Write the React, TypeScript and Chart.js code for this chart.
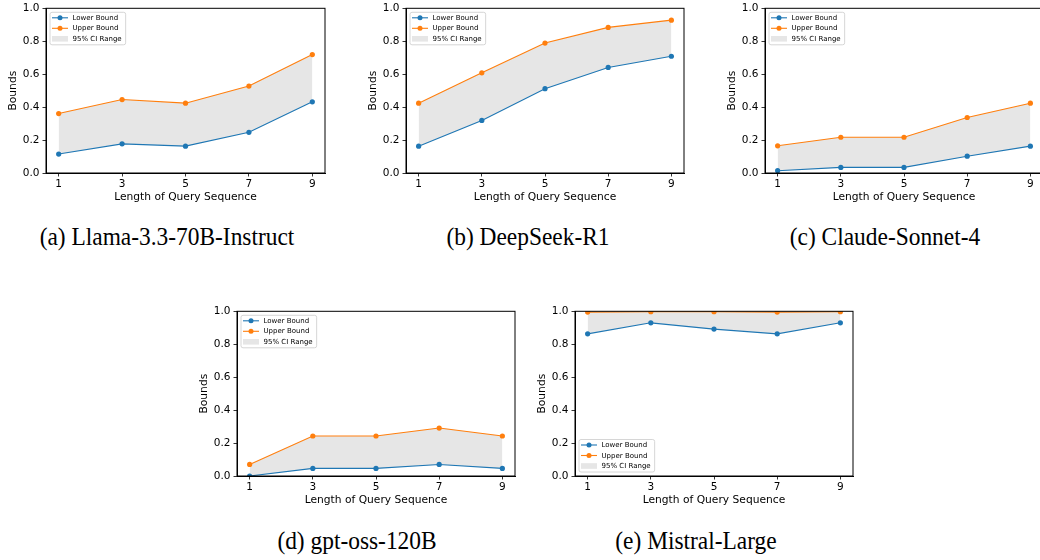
import React, { useEffect, useRef } from "react";
import { Chart, registerables } from "chart.js";

Chart.register(...registerables);

// ---------- data ----------
const xValues = [1, 3, 5, 7, 9];
const yTickValues = [0, 0.2, 0.4, 0.6, 0.8, 1.0];
const seriesLabels = ["Lower Bound", "Upper Bound", "95% CI Range"];
const xTitle = "Length of Query Sequence";
const yTitle = "Bounds";

const llamaLower = [0.115, 0.177, 0.163, 0.247, 0.432];
const llamaUpper = [0.361, 0.446, 0.424, 0.528, 0.719];
const deepseekLower = [0.163, 0.319, 0.512, 0.641, 0.709];
const deepseekUpper = [0.424, 0.608, 0.789, 0.884, 0.928];
const claudeLower = [0.014, 0.034, 0.034, 0.102, 0.163];
const claudeUpper = [0.165, 0.217, 0.217, 0.337, 0.424];
const gptLower = [0.0, 0.046, 0.046, 0.07, 0.046];
const gptUpper = [0.07, 0.243, 0.243, 0.291, 0.243];
const mistralLower = [0.863, 0.93, 0.892, 0.863, 0.93];
const mistralUpper = [0.995, 0.998, 0.998, 0.995, 0.998];

const captions = [
  "(a) Llama-3.3-70B-Instruct",
  "(b) DeepSeek-R1",
  "(c) Claude-Sonnet-4",
  "(d) gpt-oss-120B",
  "(e) Mistral-Large",
];
const lowerSeries = [llamaLower, deepseekLower, claudeLower, gptLower, mistralLower];
const upperSeries = [llamaUpper, deepseekUpper, claudeUpper, gptUpper, mistralUpper];
const legendPlaces = ["upper", "upper", "upper", "upper", "lower"];

// ---------- layout (plot rectangles & captions) ----------
const panels = [
  { L: 46, T: 6, R: 324.5, B: 173, cx: 167, cy: 237 },
  { L: 405.5, T: 6, R: 683, B: 173, cx: 528, cy: 237 },
  { L: 764.5, T: 6, R: 1042, B: 173, cx: 885, cy: 237 },
  { L: 236.5, T: 309.3, R: 514, B: 476.7, cx: 357, cy: 541 },
  { L: 574.5, T: 309.3, R: 852, B: 476.7, cx: 696, cy: 541 },
];

const BLUE = "#1f77b4";
const ORANGE = "#ff7f0e";
const FILL = "rgba(128,128,128,0.2)";
const Y_AXIS_W = 46;
const X_AXIS_H = 32;
const PAD_TOP = 7;
const PAD_RIGHT = 6;

const spinePlugin = {
  id: "spines",
  afterDatasetsDraw(chart: any) {
    const { ctx, chartArea: ca } = chart;
    ctx.save();
    ctx.strokeStyle = "#000";
    ctx.lineWidth = 1;
    ctx.strokeRect(ca.left, ca.top, ca.right - ca.left, ca.bottom - ca.top);
    ctx.restore();
  },
};

const legendPlugin = {
  id: "innerLegend",
  afterDraw(chart: any, _args: any, opts: any) {
    const { ctx, chartArea: ca } = chart;
    ctx.save();
    ctx.font = '7px "DejaVu Sans"';
    const labels: string[] = opts.labels || [];
    const textW = Math.max(...labels.map((l) => ctx.measureText(l).width));
    const boxW = 22.5 + textW + 4;
    const boxH = 32.5;
    const x0 = ca.left + 4;
    const y0 = opts.place === "lower" ? ca.bottom - 4 - boxH : ca.top + 4;
    const r = 2;
    ctx.beginPath();
    ctx.moveTo(x0 + r, y0);
    ctx.lineTo(x0 + boxW - r, y0);
    ctx.quadraticCurveTo(x0 + boxW, y0, x0 + boxW, y0 + r);
    ctx.lineTo(x0 + boxW, y0 + boxH - r);
    ctx.quadraticCurveTo(x0 + boxW, y0 + boxH, x0 + boxW - r, y0 + boxH);
    ctx.lineTo(x0 + r, y0 + boxH);
    ctx.quadraticCurveTo(x0, y0 + boxH, x0, y0 + boxH - r);
    ctx.lineTo(x0, y0 + r);
    ctx.quadraticCurveTo(x0, y0, x0 + r, y0);
    ctx.closePath();
    ctx.fillStyle = "rgba(255,255,255,0.8)";
    ctx.fill();
    ctx.strokeStyle = "#cccccc";
    ctx.lineWidth = 0.8;
    ctx.stroke();

    const colors = [BLUE, ORANGE];
    labels.forEach((lab, i) => {
      const cy = y0 + 5.5 + i * 10.5;
      if (i < 2) {
        ctx.strokeStyle = colors[i];
        ctx.lineWidth = 1.1;
        ctx.beginPath();
        ctx.moveTo(x0 + 2, cy);
        ctx.lineTo(x0 + 18, cy);
        ctx.stroke();
        ctx.fillStyle = colors[i];
        ctx.beginPath();
        ctx.arc(x0 + 10, cy, 2.5, 0, Math.PI * 2);
        ctx.fill();
      } else {
        ctx.fillStyle = FILL;
        ctx.fillRect(x0 + 2, cy - 2.8, 16, 5.6);
      }
      ctx.fillStyle = "#000";
      ctx.textBaseline = "middle";
      ctx.textAlign = "left";
      ctx.fillText(lab, x0 + 22.5, cy + 0.3);
    });
    ctx.restore();
  },
};

function Panel({ idx }: { idx: number }) {
  const ref = useRef<HTMLCanvasElement | null>(null);
  const p = panels[idx];
  const width = Math.round(p.R - p.L + Y_AXIS_W + PAD_RIGHT);
  const height = Math.round(p.B - p.T + PAD_TOP + X_AXIS_H);

  useEffect(() => {
    if (!ref.current) return;
    const lower = lowerSeries[idx];
    const upper = upperSeries[idx];
    const tickFont = { family: '"DejaVu Sans"', size: 10.5, lineHeight: 1.2 };
    const titleFont = { family: '"DejaVu Sans"', size: 10.7, lineHeight: 1.2 };
    const chart = new Chart(ref.current, {
      type: "line",
      data: {
        datasets: [
          {
            label: seriesLabels[0],
            data: xValues.map((x, i) => ({ x, y: lower[i] })),
            borderColor: BLUE,
            backgroundColor: BLUE,
            borderWidth: 1.1,
            pointRadius: 2.6,
            pointBorderWidth: 0,
            pointBackgroundColor: BLUE,
            fill: false,
            tension: 0,
          },
          {
            label: seriesLabels[1],
            data: xValues.map((x, i) => ({ x, y: upper[i] })),
            borderColor: ORANGE,
            backgroundColor: FILL,
            borderWidth: 1.1,
            pointRadius: 2.6,
            pointBorderWidth: 0,
            pointBackgroundColor: ORANGE,
            fill: "-1",
            tension: 0,
          },
        ],
      },
      options: {
        animation: false,
        responsive: false,
        maintainAspectRatio: false,
        events: [],
        layout: { padding: { top: PAD_TOP, right: PAD_RIGHT, left: 0, bottom: 0 } },
        plugins: {
          legend: { display: false },
          tooltip: { enabled: false },
          filler: { drawTime: "beforeDatasetsDraw" },
          innerLegend: { labels: seriesLabels, place: legendPlaces[idx] },
        } as any,
        scales: {
          x: {
            type: "linear",
            min: 0.6,
            max: 9.4,
            afterBuildTicks: (scale: any) => {
              scale.ticks = xValues.map((v) => ({ value: v }));
            },
            afterFit: (scale: any) => {
              scale.height = X_AXIS_H;
            },
            grid: {
              drawOnChartArea: false,
              drawTicks: true,
              tickLength: 3.5,
              tickColor: "#000",
              tickWidth: 0.8,
            },
            border: { display: true, color: "#000", width: 1 },
            ticks: {
              color: "#000",
              font: tickFont,
              padding: 1.5,
              autoSkip: false,
              maxRotation: 0,
              callback: (v: any) => String(v),
            },
            title: {
              display: true,
              text: xTitle,
              color: "#000",
              font: titleFont,
              padding: { top: 0, bottom: 1.5 },
            },
          },
          y: {
            type: "linear",
            min: 0,
            max: 1,
            afterBuildTicks: (scale: any) => {
              scale.ticks = yTickValues.map((v) => ({ value: v }));
            },
            afterFit: (scale: any) => {
              scale.width = Y_AXIS_W;
            },
            grid: {
              drawOnChartArea: false,
              drawTicks: true,
              tickLength: 3.5,
              tickColor: "#000",
              tickWidth: 0.8,
            },
            border: { display: true, color: "#000", width: 1 },
            ticks: {
              color: "#000",
              font: tickFont,
              padding: 3,
              autoSkip: false,
              callback: (v: any) => Number(v).toFixed(1),
            },
            title: {
              display: true,
              text: yTitle,
              color: "#000",
              font: titleFont,
              padding: { top: 7, bottom: 0 },
            },
          },
        },
      } as any,
      plugins: [spinePlugin, legendPlugin],
    });
    return () => chart.destroy();
  }, [idx]);

  return (
    <>
      <div
        style={{
          position: "absolute",
          left: p.L - Y_AXIS_W,
          top: p.T - PAD_TOP,
          width,
          height,
        }}
      >
        <canvas ref={ref} width={width} height={height} style={{ display: "block" }} />
      </div>
      <div
        style={{
          position: "absolute",
          left: p.cx - 200,
          top: p.cy - 15,
          width: 400,
          height: 30,
          lineHeight: "30px",
          textAlign: "center",
          fontFamily: '"Liberation Serif", "Times New Roman", serif',
          fontSize: 26,
          color: "#000",
          whiteSpace: "nowrap",
          transform: "scaleX(0.9)",
          transformOrigin: "50% 50%",
        }}
      >
        {captions[idx]}
      </div>
    </>
  );
}

export default function App() {
  return (
    <div
      style={{
        position: "fixed",
        left: 0,
        top: 0,
        width: 1040,
        height: 560,
        overflow: "hidden",
        background: "#fff",
      }}
    >
      {panels.map((_, i) => (
        <Panel key={i} idx={i} />
      ))}
    </div>
  );
}
